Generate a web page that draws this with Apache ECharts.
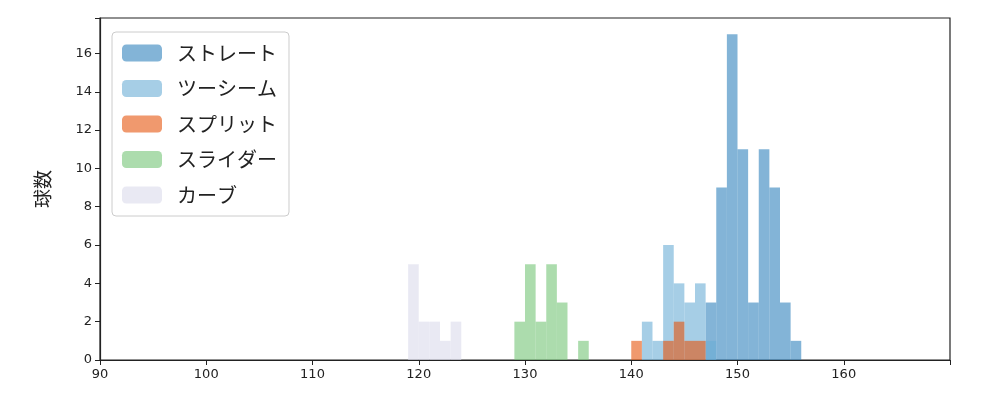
<!DOCTYPE html>
<html><head><meta charset="utf-8">
<script src="https://cdn.jsdelivr.net/npm/echarts@6/dist/echarts.min.js"></script>
<style>html,body{margin:0;padding:0;background:#fff}#c{width:1000px;height:400px}</style>
</head><body><div id="c"></div>
<script>
const names = ['ストレート','ツーシーム','スプリット','スライダー','カーブ'];
const colors = ['rgba(49,130,189,0.6)','rgba(107,174,214,0.6)','rgba(230,85,13,0.6)','rgba(116,196,118,0.6)','rgba(218,218,235,0.6)'];
// bin start (1-wide bins), count
const straight = [[147,3],[148,9],[149,17],[150,11],[151,3],[152,11],[153,9],[154,3],[155,1]];
const twoSeam = [[141,2],[142,1],[143,6],[144,4],[145,3],[146,4],[147,1]];
const split = [[140,1],[143,1],[144,2],[145,1],[146,1]];
const slider = [[129,2],[130,5],[131,2],[132,5],[133,3],[135,1]];
const curve = [[119,5],[120,2],[121,2],[122,1],[123,2]];
const xTicks = [90,100,110,120,130,140,150,160];
const allData = [straight, twoSeam, split, slider, curve];

function render(params, api){
  const x0 = api.value(0), h = api.value(1);
  const p0 = api.coord([x0, 0]), p1 = api.coord([x0+1, h]);
  return {type:'rect', shape:{x:p0[0], y:p1[1], width:p1[0]-p0[0], height:p0[1]-p1[1]}, style:{fill:api.visual('color')}};
}
const chart = echarts.init(document.getElementById('c'));
chart.setOption({
  animation:false,
  grid:{left:100,right:50,top:18,bottom:40,show:true,borderColor:'#222',borderWidth:1.2,backgroundColor:'transparent'},
  xAxis:{type:'value',min:90,max:170,interval:10,
    axisLine:{show:true,lineStyle:{color:'#222',width:1.2}},
    axisTick:{show:true,length:5,lineStyle:{color:'#222'}},
    splitLine:{show:false},
    axisLabel:{fontSize:13,color:'#222',fontFamily:'DejaVu Sans',margin:8,
      formatter:v=>xTicks.includes(v)?String(v):''}},
  yAxis:{type:'value',min:0,max:17.85,interval:2,name:'球数',nameLocation:'middle',nameGap:48,
    nameTextStyle:{fontSize:19,color:'#222',fontFamily:'Noto Sans CJK JP'},
    axisLine:{show:true,lineStyle:{color:'#222',width:1.2}},
    axisTick:{show:true,length:5,lineStyle:{color:'#222'}},
    splitLine:{show:false},
    axisLabel:{fontSize:13,color:'#222',fontFamily:'DejaVu Sans',formatter:v=>Number.isInteger(v)?String(v):''}},
  legend:{data:names,orient:'vertical',left:112,top:32,itemWidth:40,itemHeight:17,itemGap:11.5,
    padding:[9,12,9,10],borderColor:'#ccc',borderWidth:1,borderRadius:4,backgroundColor:'#fff',
    textStyle:{fontSize:20,color:'#222',fontFamily:'Noto Sans CJK JP',lineHeight:24,padding:[0,0,0,10]}},
  series: allData.map((d,i)=>({name:names[i],type:'custom',renderItem:render,data:d,
    itemStyle:{color:colors[i]},encode:{x:0,y:1}}))
});
</script></body></html>
